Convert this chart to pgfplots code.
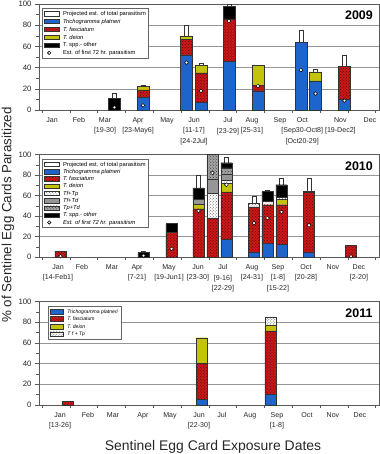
\documentclass[border=0pt]{standalone}
\usepackage{fontspec}
\setmainfont{Liberation Sans}
\usepackage{pgfplots}
\pgfplotsset{compat=1.18}
\usepackage{pgfplotstable}
\usetikzlibrary{patterns}

\definecolor{tpblue}{RGB}{30,100,205}
\definecolor{tfred}{RGB}{205,25,25}
\definecolor{tfdots}{RGB}{80,0,0}
\definecolor{tdyel}{RGB}{195,195,10}
\definecolor{tfdgray}{RGB}{150,150,150}
\definecolor{gridgray}{RGB}{150,150,150}

\tikzset{
  barline/.style={draw=black!80, line width=0.4pt},
  sBlue/.style={barline, fill=tpblue},
  sRed/.style={barline, fill=tfred, postaction={pattern=crosshatch dots, pattern color=tfdots}},
  sYel/.style={barline, fill=tdyel},
  sTfTp/.style={barline, fill=white, postaction={pattern=crosshatch dots, pattern color=black!60}},
  sTfTd/.style={barline, fill=tfdgray},
  sTpTd/.style={barline, fill=black!35, postaction={pattern=crosshatch dots, pattern color=black!80}},
  sOth/.style={barline, fill=black},
  sProj/.style={barline, fill=white},
}

\newcommand\lbox[1]{\addlegendimage{legend image code/.code={\draw[#1] (0bp,-2bp) rectangle (15bp,2.3bp);}}}
\newcommand\lboxs[1]{\addlegendimage{legend image code/.code={\draw[#1] (0bp,-2.3bp) rectangle (13bp,2.5bp);}}}
\newcommand\lcirc{\addlegendimage{legend image code/.code={\draw[black, fill=white, line width=0.6pt] (5bp,0.2bp) circle (1.7bp);}}}

\pgfplotsset{
  panel/.style={
    scale only axis, width=340bp, anchor=south west,
    xmin=0.388, xmax=12.62, ymin=0, ymax=100,
    ytick={0,20,...,100}, minor y tick num=1,
    ymajorgrids, major grid style={draw=gridgray, line width=0.5pt},
    axis line style={draw=black!65, line width=0.6pt},
    tick style={draw=black!65, line width=0.5pt},
    tick align=outside, major tick length=4bp, minor tick length=2.5bp,
    tick pos=left,
    /pgf/number format/assume math mode=true,
    yticklabel style={font=\fontsize{7.8}{8}\selectfont, text=black!85},
    xticklabel style={font=\fontsize{7.1}{10.5}\selectfont, align=center, text=black!85},
    every major x tick/.append style={draw=none},
    minor xtick={0.5,1.5,...,12.5},
    clip=false,
    legend cell align=left,
  },
  circs/.style={panel, hide axis},
  circmark/.style={only marks, mark=*, mark size=1.9bp, mark options={fill=white, draw=black, line width=0.5pt}},
}

% columns: position (month units), platneri, fasciatum, deion, Tf+Tp, Tf+Td, Tp+Td, other, projected extra, first-72h estimate
\pgfplotstableread{
pos plat fasc deion tftp tftd tptd oth proj circ
3.104 0 0 0 0 0 0 11 4.7 2.5
4.13 12 7 3 0 0 0 0 1 4.4
5.694 52 14.7 3.3 0 0 0 0 10 44.7
6.216 7 28 7 0 0 0 0 2 18
7.223 45.6 40.4 0 0 0 0 11.5 1.9 84
8.266 18 5 19 0 0 0 0 0 22.6
9.813 63.5 0 0 0 0 0 0 11.5 37.7
10.335 27.4 0 8.6 0 0 0 0 2.7 15.4
11.378 10 31 0 0 0 0 0 11 8.8
}\dA

\pgfplotstableread{
pos plat fasc deion tftp tftd tptd oth proj circ
1.162 0 5.5 0 0 0 0 0 0 0.8
4.147 0 0 0 0 0 0 4.5 1 1.3
5.155 0 24 0 0 0 0 8.5 0 8
6.126 0 47 4.5 0 4.5 0 11.5 12.5 45
6.629 0 38 0 24 13.5 24.5 0 0 82
7.133 17 46.5 8.5 3 6 6 5 5 70.5
8.122 4.5 44.5 0 3.5 0 0 0 7 33
8.608 13 38 0 3 0 0 10 1.5 38
9.112 12.5 38.5 5 2 0 0 12.5 6.5 44
10.101 4.5 58.5 0 1.5 0 0 0 12.5 31
11.612 0 11.4 0 0 0 0 0 0 0.6
}\dB

\pgfplotstableread{
pos plat fasc deion tftp
1.414 0 3.2 0 0
6.252 5.5 34.8 24.7 0
8.716 10.3 61.3 5.8 7.1
}\dC

\begin{document}
\begin{tikzpicture}
\useasboundingbox (0,0) rectangle (380bp,-454bp);

% ---------------- 2009 ----------------
\begin{axis}[panel, at={(39bp,-110bp)}, height=106bp, ybar stacked, bar width=0.42,
  xtick={0.856,1.827,2.763,3.95,4.993,5.964,7.187,8.05,9.058,9.86,11.23,12.295},
  xticklabels={Jan,Feb,{Mar\\{}[19-30]},{Apr\\{}[23-May6]},May,{Jun\\{}[11-17]\\{}[24-2Jul]},{Jul\\{}[23-29]},{Aug\\{}[25-31]},Sep,{Oct\\{}[Sep30-Oct8]\\{}[Oct20-29]},{Nov\\{}[19-Dec2]},Dec},
  legend style={font=\fontsize{5.8}{6}\selectfont, draw=black!60, line width=0.6pt, fill=white,
    at={(0.008,0.962)}, anchor=north west, inner xsep=2pt, inner ysep=1.5pt, row sep=0pt, column sep=3bp,
    nodes={inner sep=0.7pt, text height=5pt, text depth=1.5pt}},
]
\lbox{sProj}\addlegendentry{Projected est. of total parasitism}
\lbox{sBlue}\addlegendentry{\textit{Trichogramma platneri}}
\lbox{sRed}\addlegendentry{\textit{T. fasciatum}}
\lbox{sYel}\addlegendentry{\textit{T. deion}}
\lbox{sOth}\addlegendentry{T. spp.- other}
\lcirc\addlegendentry{Est. of first 72 hr. parasitism}
\addplot[sBlue, forget plot] table[x=pos, y=plat] {\dA};
\addplot[sRed, forget plot] table[x=pos, y=fasc] {\dA};
\addplot[sYel, forget plot] table[x=pos, y=deion] {\dA};
\addplot[sTfTp, forget plot] table[x=pos, y=tftp] {\dA};
\addplot[sTfTd, forget plot] table[x=pos, y=tftd] {\dA};
\addplot[sTpTd, forget plot] table[x=pos, y=tptd] {\dA};
\addplot[sOth, forget plot] table[x=pos, y=oth] {\dA};
\addplot[sProj, bar width=0.14, forget plot] table[x=pos, y=proj] {\dA};
\node[font=\fontsize{12.5}{13}\selectfont\bfseries] at (rel axis cs:0.941,0.896) {2009};
\end{axis}
\begin{axis}[circs, at={(39bp,-110bp)}, height=106bp]
\addplot[circmark] table[x=pos, y=circ] {\dA};
\end{axis}

% ---------------- 2010 ----------------
\begin{axis}[panel, at={(39bp,-257bp)}, height=102.5bp, ybar stacked, bar width=0.4,
  xtick={1.072,1.935,3.014,3.914,5.065,6.108,7.007,8.05,8.986,9.993,10.964,11.899},
  xticklabels={{Jan\\{}[14-Feb1]},Feb,Mar,{Apr\\{}[7-21]},{May\\{}[19-Jun1]},{Jun\\{}[23-30]},{Jul\\{}[9-16]\\{}[22-29]},{Aug\\{}[24-31]},{Sep\\{}[1-8]\\{}[15-22]},{Oct\\{}[20-28]},Nov,{Dec\\{}[2-20]}},
  legend style={font=\fontsize{5.8}{6}\selectfont, draw=black!60, line width=0.6pt, fill=white,
    at={(0.008,0.956)}, anchor=north west, inner xsep=2pt, inner ysep=1.5pt, row sep=0pt, column sep=3bp,
    nodes={inner sep=0.6pt, text height=4.7pt, text depth=1.4pt}},
]
\lbox{sProj}\addlegendentry{Projected est. of total parasitism}
\lbox{sBlue}\addlegendentry{\textit{Trichogramma platneri}}
\lbox{sRed}\addlegendentry{\textit{T. fasciatum}}
\lbox{sYel}\addlegendentry{\textit{T. deion}}
\lbox{sTfTp}\addlegendentry{\textit{Tf+Tp}}
\lbox{sTfTd}\addlegendentry{\textit{Tf+Td}}
\lbox{sTpTd}\addlegendentry{\textit{Tp+Td}}
\lbox{sOth}\addlegendentry{\textit{T. spp.- other}}
\lcirc\addlegendentry{\textit{Est. of first 72 hr. parasitism}}
\addplot[sBlue, forget plot] table[x=pos, y=plat] {\dB};
\addplot[sRed, forget plot] table[x=pos, y=fasc] {\dB};
\addplot[sYel, forget plot] table[x=pos, y=deion] {\dB};
\addplot[sTfTp, forget plot] table[x=pos, y=tftp] {\dB};
\addplot[sTfTd, forget plot] table[x=pos, y=tftd] {\dB};
\addplot[sTpTd, forget plot] table[x=pos, y=tptd] {\dB};
\addplot[sOth, forget plot] table[x=pos, y=oth] {\dB};
\addplot[sProj, bar width=0.14, forget plot] table[x=pos, y=proj] {\dB};
\node[font=\fontsize{12.5}{13}\selectfont\bfseries] at (rel axis cs:0.941,0.888) {2010};
\end{axis}
\begin{axis}[circs, at={(39bp,-257bp)}, height=102.5bp]
\addplot[circmark] table[x=pos, y=circ] {\dB};
\end{axis}

% ---------------- 2011 ----------------
\begin{axis}[panel, at={(39bp,-405bp)}, height=103.5bp, ybar stacked, bar width=0.4,
  xtick={1.144,2.151,3.05,4.129,5.101,6.144,6.971,7.978,8.95,10.029,10.964,11.935},
  xticklabels={{Jan\\{}[13-26]},Feb,Mar,Apr,May,{Jun\\{}[22-30]},Jul,Aug,{Sep\\{}[1-8]},Oct,Nov,Dec},
  legend style={font=\fontsize{5.1}{6}\selectfont, draw=black!60, line width=0.6pt, fill=white,
    at={(0.026,0.957)}, anchor=north west, inner xsep=2pt, inner ysep=1.5pt, row sep=0pt, column sep=3bp,
    nodes={inner sep=0.9pt, text height=4.5pt, text depth=1.3pt}},
]
\lboxs{sBlue}\addlegendentry{\textit{Trichogramma platneri}}
\lboxs{sRed}\addlegendentry{\textit{T. fasciatum}}
\lboxs{sYel}\addlegendentry{\textit{T. deion}}
\lboxs{sTfTp}\addlegendentry{\textit{T f + Tp}}
\addplot[sBlue, forget plot] table[x=pos, y=plat] {\dC};
\addplot[sRed, forget plot] table[x=pos, y=fasc] {\dC};
\addplot[sYel, forget plot] table[x=pos, y=deion] {\dC};
\addplot[sTfTp, forget plot] table[x=pos, y=tftp] {\dC};
\node[font=\fontsize{12.5}{13}\selectfont\bfseries] at (rel axis cs:0.941,0.889) {2011};
\end{axis}

% axis titles
\node[rotate=90, font=\fontsize{13.4}{14}\selectfont, text=black!85] at (8bp,-215bp) {\% of Sentinel Egg Cards Parasitized};
\node[font=\fontsize{14}{15}\selectfont, text=black!85] at (213bp,-447bp) {Sentinel Egg Card Exposure Dates};
\end{tikzpicture}
\end{document}
